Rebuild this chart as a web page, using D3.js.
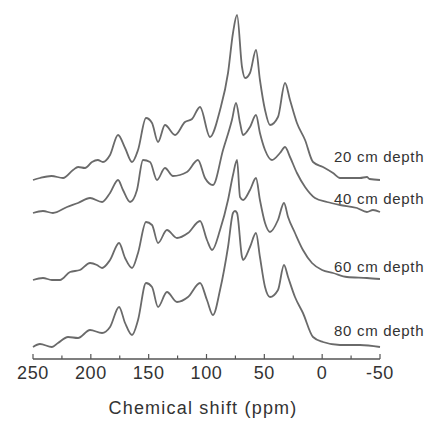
<!DOCTYPE html>
<html>
<head>
<meta charset="utf-8">
<script src="https://cdn.jsdelivr.net/npm/d3@7"></script>
<style>
  body { margin: 0; background: #fff; }
  text { font-family: "Liberation Sans", Arial, sans-serif; fill: #333; }
</style>
</head>
<body>
<svg id="chart" width="426" height="423"></svg>
<script>
// depth labels, top to bottom
const depths = ['20 cm depth', '40 cm depth', '60 cm depth', '80 cm depth'];
// vertical offset of each trace (intensity units)
const offsets = [167, 134, 67, 0];
// level of each depth label (intensity units)
const labelLevels = [185, 143, 75, 11];
const xTicks = [250, 200, 150, 100, 50, 0, -50];

// [ppm, intensity]
const depth20 = [
    [250, 0], [244, 2], [234, 4], [224, 2], [215.4, 10], [211, 13], [205, 12], [199, 18],
    [194, 20], [189.5, 18], [183.4, 25], [176.5, 45], [170.4, 32], [164.4, 18], [159.2, 30],
    [152.3, 62], [147.1, 57], [141.9, 38], [135.9, 55], [127.2, 45], [118.6, 58], [112.5, 61],
    [105.6, 73], [97, 43], [88.3, 70], [81.4, 107], [77.1, 147], [73.6, 165], [69.3, 113],
    [66.7, 102], [62.4, 107], [57.2, 130], [53.8, 100], [49.4, 70], [45.1, 55], [38.2, 63],
    [32.1, 97], [27.8, 80], [21.8, 57], [14.8, 40], [7.9, 18], [-0.7, 13], [-9.4, 7],
    [-15.4, 2], [-32.7, 2], [-38.7, 3], [-41, 1], [-50, 0]
];
const depth40 = [
    [250, 0], [241.4, 2], [232.7, 0], [220.6, 6], [211.1, 10], [200.7, 15], [190.3, 11],
    [183.4, 20], [176.5, 33], [172.2, 23], [166.1, 11], [160.1, 23], [154.9, 53], [148.8, 51],
    [142.8, 33], [135.9, 45], [129, 37], [116.9, 41], [107.4, 53], [101.3, 35], [94.4, 28],
    [85.7, 63], [78, 93], [74.5, 110], [71, 90], [68.4, 78], [62.4, 86], [57.2, 98],
    [53.8, 80], [49.4, 63], [43.4, 53], [36.5, 60], [32.1, 66], [27.8, 56], [21.8, 40],
    [14.8, 26], [6.2, 15], [-4.2, 11], [-15.4, 8], [-30.1, 5], [-38.7, 1], [-43.9, 3], [-50, 1]
];
const depth60 = [
    [250, 0], [241.4, 2], [233.6, 0], [226.7, 0], [218, 8], [209.4, 10], [200.7, 17],
    [194.7, 15], [190.3, 12], [183.4, 20], [175.6, 37], [170.4, 22], [164.4, 12], [159.2, 27],
    [152.3, 58], [147.1, 55], [141.9, 37], [134.2, 50], [125.5, 42], [116, 47], [105.6, 59],
    [99.6, 40], [95.2, 30], [88.3, 50], [81.4, 80], [77.1, 105], [73.6, 120], [71, 83],
    [68.4, 80], [62.4, 90], [57.2, 102], [53.8, 80], [49.4, 57], [45.1, 48], [38.2, 60],
    [33, 77], [29.5, 63], [23.5, 47], [16.6, 30], [8.8, 17], [0.1, 10], [-9.4, 7],
    [-21.5, 3], [-38.7, 2], [-50, 1]
];
const depth80 = [
    [250, 0], [244, 3], [233.6, 0], [228.4, 4], [219.7, 10], [211.1, 9], [200.7, 17],
    [190.3, 14], [183.4, 20], [175.6, 40], [170.4, 24], [164.4, 12], [159.2, 27], [152.3, 64],
    [147.1, 60], [141.9, 40], [134.2, 55], [125.5, 45], [116, 50], [105.6, 64], [99.6, 47],
    [94.4, 32], [88.3, 57], [81.4, 100], [77.1, 134], [75.4, 136], [73.6, 134], [69.3, 90],
    [68.4, 87], [62.4, 100], [57.2, 114], [53.8, 90], [49.4, 60], [45.1, 50], [38.2, 57],
    [33, 82], [29.5, 70], [23.5, 50], [16.6, 34], [7.9, 10], [-0.7, 5], [-15.4, 2],
    [-32.7, 2], [-50, 0]
];
const spectra = [depth20, depth40, depth60, depth80];

const svg = d3.select('#chart');

const x = d3.scaleLinear().domain([250, -50]).range([33, 380]);
const y = d3.scaleLinear().domain([0, 347]).range([347, 0]);

const line = d3.line()
    .x(d => x(d[0]))
    .y(d => d[1])
    .curve(d3.curveMonotoneX);

// traces
spectra.forEach((s, i) => {
    svg.append('path')
        .datum(s.map(p => [p[0], y(p[1] + offsets[i])]))
        .attr('d', line)
        .attr('fill', 'none')
        .attr('stroke', '#6a6a6a')
        .attr('stroke-width', 1.8)
        .attr('stroke-linejoin', 'round');
});

svg.selectAll('text.depth')
    .data(depths)
    .enter().append('text')
    .attr('class', 'depth')
    .attr('x', 334)
    .attr('y', (d, i) => y(labelLevels[i]))
    .attr('font-size', 15)
    .attr('letter-spacing', 0.7)
    .text(d => d);

// bottom axis, ticks pointing up
const axisY = 359;
const axisG = svg.append('g').attr('transform', 'translate(0,' + axisY + ')');
axisG.append('line')
    .attr('x1', x(250)).attr('x2', x(-50))
    .attr('stroke', '#555').attr('stroke-width', 1.3);
axisG.selectAll('line.tick')
    .data(d3.range(250, -51, -25))
    .enter().append('line')
    .attr('class', 'tick')
    .attr('x1', d => x(d)).attr('x2', d => x(d))
    .attr('y1', 0).attr('y2', d => d % 50 === 0 ? -5 : -3.5)
    .attr('stroke', '#555').attr('stroke-width', 1.2);
axisG.selectAll('text.tl')
    .data(xTicks)
    .enter().append('text')
    .attr('class', 'tl')
    .attr('x', d => x(d))
    .attr('y', 20)
    .attr('text-anchor', 'middle')
    .attr('font-size', 18)
    .attr('letter-spacing', 0.6)
    .text(d => d);

svg.append('text')
    .attr('x', 203)
    .attr('y', 414)
    .attr('text-anchor', 'middle')
    .attr('font-size', 18)
    .attr('letter-spacing', 1.2)
    .text('Chemical shift (ppm)');
</script>
</body>
</html>
